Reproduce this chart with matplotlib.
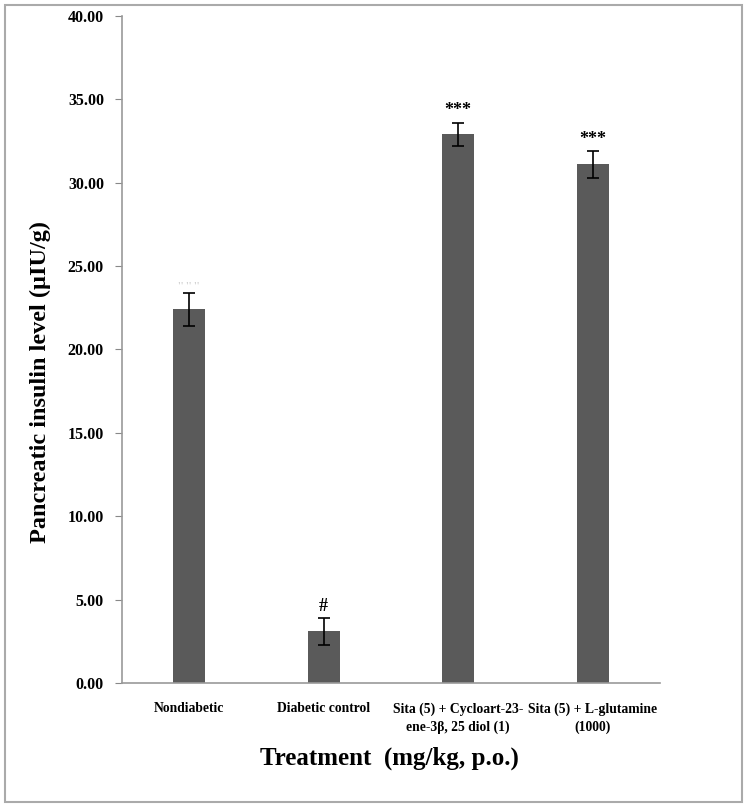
import matplotlib
matplotlib.use("Agg")
import matplotlib.pyplot as plt
from matplotlib.patches import Rectangle
import numpy as np

groups = ["Nondiabetic", "Diabetic control",
          "Sita (5) + Cycloart-23-\nene-3β, 25 diol (1)",
          "Sita (5) + L-glutamine\n(1000)"]
insulin = [22.4, 3.1, 32.9, 31.1]
sem = [1.0, 0.8, 0.7, 0.8]
marks = ["", "#", "***", "***"]
yticks = [0, 5, 10, 15, 20, 25, 30, 35, 40]

plt.rcParams['font.family'] = ['Liberation Serif', 'DejaVu Serif']
plt.rcParams['font.weight'] = 'bold'

fig = plt.figure(figsize=(7.47, 8.07), dpi=100)
ax = fig.add_axes([0.1633, 0.1537, 0.7202, 0.8265])

x = np.arange(len(groups))
ax.bar(x, insulin, width=0.24, color='#5a5a5a', zorder=2)
ax.errorbar(x, insulin, yerr=sem, fmt='none', ecolor='black',
            elinewidth=1.2, capsize=4, capthick=1.2, zorder=3)

for xi, v, e, m in zip(x, insulin, sem, marks):
    if m:
        ax.text(xi, v + e + 0.2, m, ha='center', va='bottom',
                fontsize=13, fontweight='bold')
# faint marker above the first bar
ax.text(x[0], insulin[0] + sem[0] + 0.1, "'' '' ''", ha='center', va='bottom',
        fontsize=7, color='#cccccc')

ax.set_xlim(-0.5, len(groups) - 0.5)
ax.set_ylim(0, 40)
ax.set_yticks(yticks)
ax.set_yticklabels([f"{t:.2f}" for t in yticks], fontsize=11.5, fontweight='bold')
ax.set_xticks(x)
ax.set_xticklabels(groups, fontsize=9.8, fontweight='bold', linespacing=1.45)
ax.tick_params(axis='x', length=0, pad=14)
ax.tick_params(axis='y', length=5, color='#888888', pad=8)

for s in ['top', 'right']:
    ax.spines[s].set_visible(False)
for s in ['left', 'bottom']:
    ax.spines[s].set_color('#999999')
    ax.spines[s].set_linewidth(1.2)

fig.text(40 / 747, 1 - 382 / 807, "Pancreatic insulin level (µIU/g)",
         rotation=90, ha='center', va='center', fontsize=17.5, fontweight='bold')
fig.text(389 / 747, 1 - 758 / 807, "Treatment  (mg/kg, p.o.)",
         ha='center', va='center', fontsize=18, fontweight='bold')

# outer border
fig.patches.append(Rectangle((5 / 747, 5 / 807), 737 / 747, 797 / 807,
                             transform=fig.transFigure, fill=False,
                             edgecolor='#aaaaaa', linewidth=1.5))

fig.savefig("out.png", dpi=100)
